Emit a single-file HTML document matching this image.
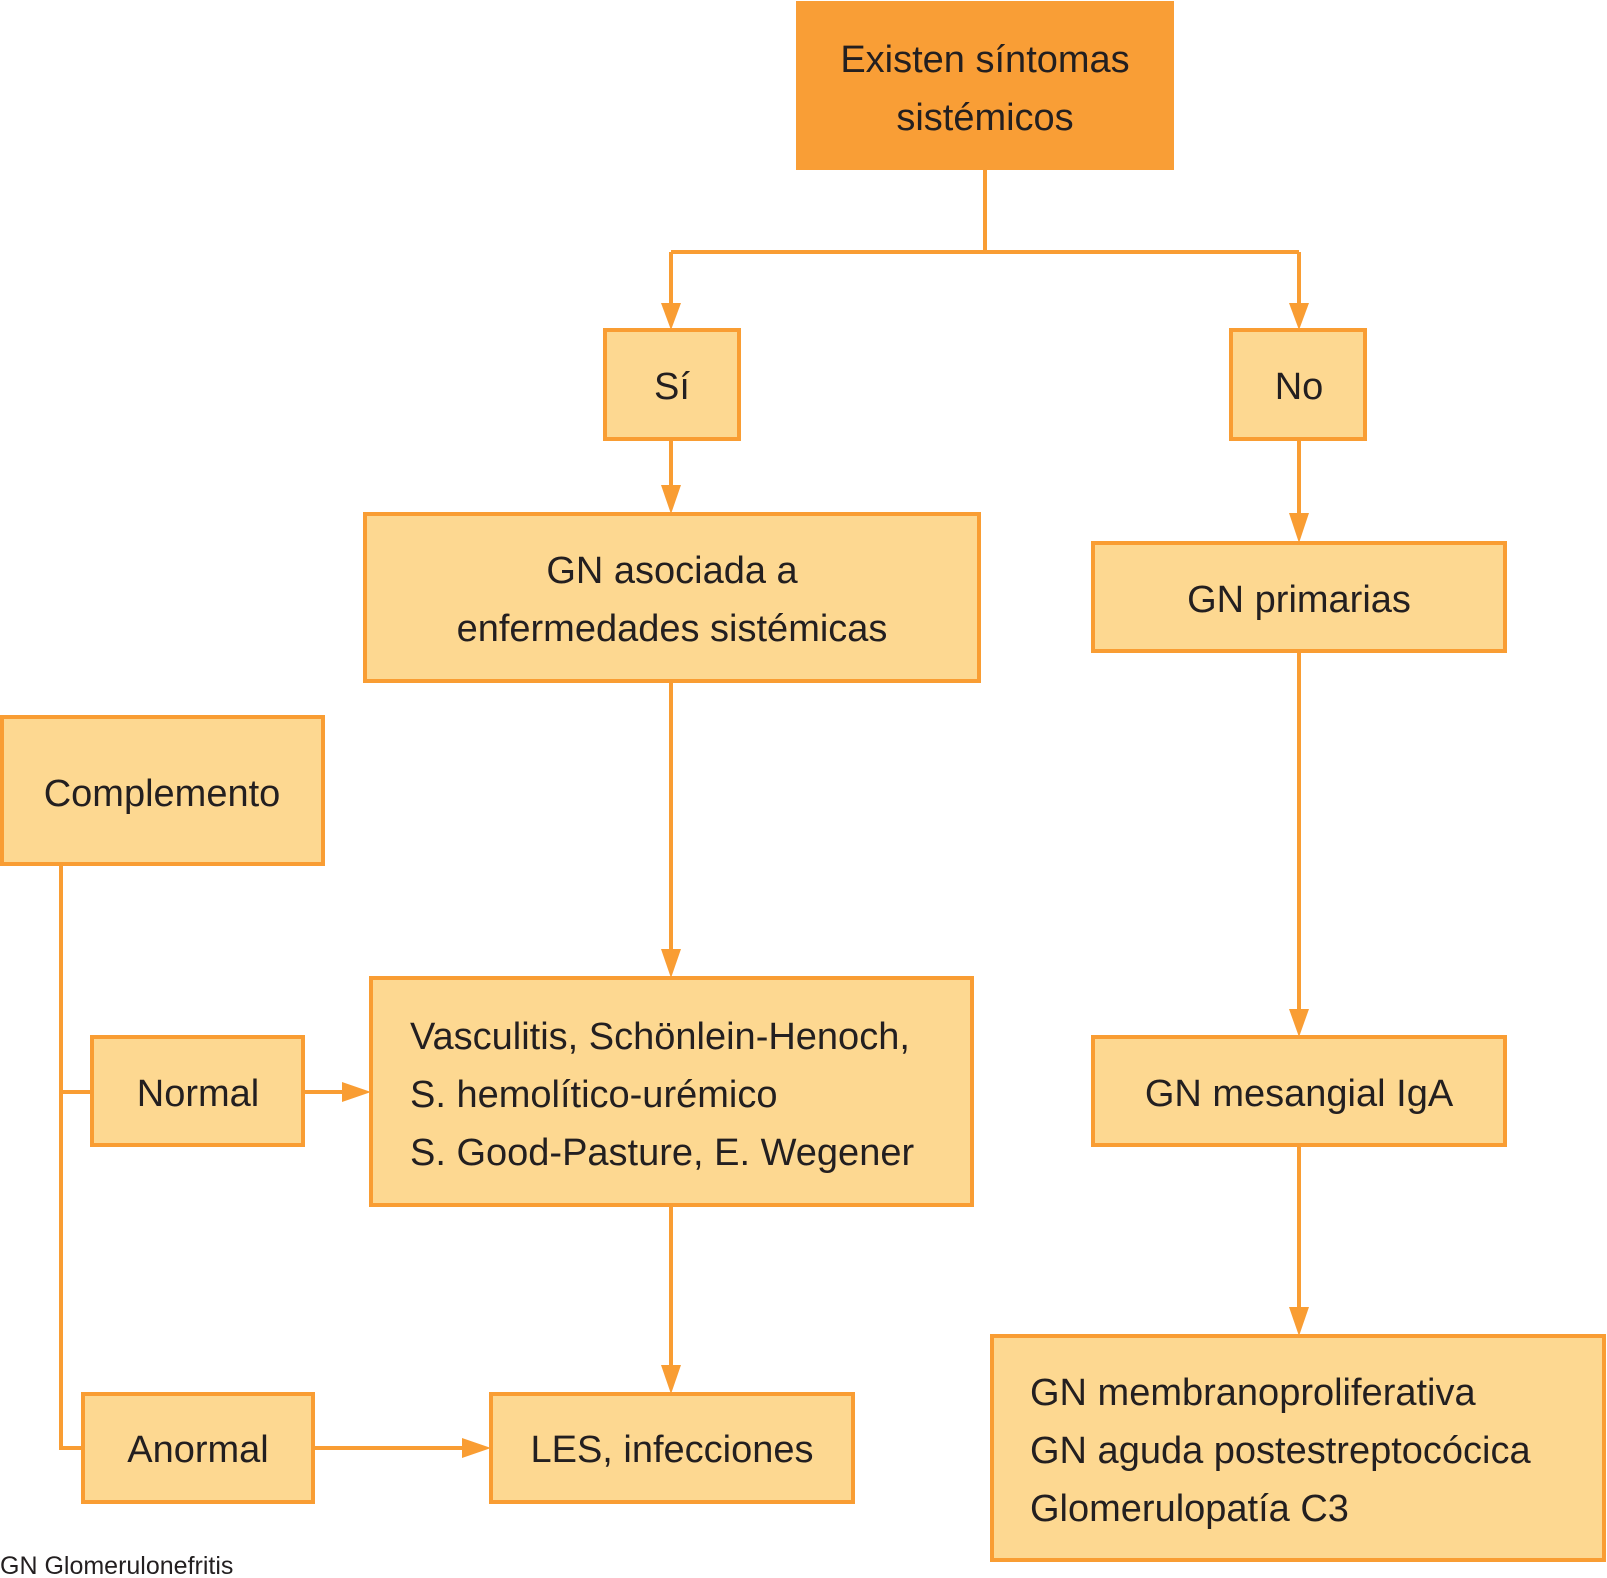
<!DOCTYPE html>
<html><head><meta charset="utf-8"><style>
html,body{margin:0;padding:0;background:#fff}
svg{display:block}
text{font-family:"Liberation Sans",sans-serif;fill:#231f20;font-size:38px}
</style></head><body>
<svg width="1607" height="1578" viewBox="0 0 1607 1578" xmlns="http://www.w3.org/2000/svg">
<defs><marker id="a" markerWidth="10" markerHeight="10" refX="9" refY="5" orient="auto" markerUnits="userSpaceOnUse"></marker></defs>
<g stroke="#f99d33" stroke-width="4" fill="none">
<path d="M985 170V252M671 252H1299M671 252V305M1299 252V305"/>
<path d="M671 439V486M1299 439V514"/>
<path d="M671 681V950M1299 651V1021"/>
<path d="M671 1205V1366M1299 1145V1308"/>
<path d="M61 864V1448H83M61 1092H92M303 1092H345M313 1448H464"/>
</g>
<g fill="#f99d33">
<polygon points="661,303 681,303 671,330"/>
<polygon points="1289,303 1309,303 1299,330"/>
<polygon points="661,485 681,485 671,514"/>
<polygon points="1289,513 1309,513 1299,543"/>
<polygon points="661,949 681,949 671,978"/>
<polygon points="1289,1009 1309,1009 1299,1037"/>
<polygon points="661,1365 681,1365 671,1394"/>
<polygon points="1289,1307 1309,1307 1299,1336"/>
<polygon points="342,1082 342,1102 371,1092"/>
<polygon points="462,1438 462,1458 491,1448"/>
</g>
<rect x="796" y="1" width="378" height="169" fill="#f99e36"/>
<g fill="#fdd891" stroke="#f99d33" stroke-width="4">
<rect x="605" y="330" width="134" height="109"/>
<rect x="1231" y="330" width="134" height="109"/>
<rect x="365" y="514" width="614" height="167"/>
<rect x="1093" y="543" width="412" height="108"/>
<rect x="2" y="717" width="321" height="147"/>
<rect x="92" y="1037" width="211" height="108"/>
<rect x="371" y="978" width="601" height="227"/>
<rect x="1093" y="1037" width="412" height="108"/>
<rect x="83" y="1394" width="230" height="108"/>
<rect x="491" y="1394" width="362" height="108"/>
<rect x="992" y="1336" width="612" height="224"/>
</g>
<g text-anchor="middle">
<text x="985" y="72">Existen síntomas</text>
<text x="985" y="130">sistémicos</text>
<text x="672" y="399">Sí</text>
<text x="1299" y="399">No</text>
<text x="672" y="583">GN asociada a</text>
<text x="672" y="641">enfermedades sistémicas</text>
<text x="1299" y="612">GN primarias</text>
<text x="162" y="806">Complemento</text>
<text x="198" y="1106">Normal</text>
<text x="1299" y="1106">GN mesangial IgA</text>
<text x="198" y="1462">Anormal</text>
<text x="672" y="1462">LES, infecciones</text>
</g>
<text x="410" y="1049">Vasculitis, Schönlein-Henoch,</text>
<text x="410" y="1107">S. hemolítico-urémico</text>
<text x="410" y="1165">S. Good-Pasture, E. Wegener</text>
<text x="1030" y="1405">GN membranoproliferativa</text>
<text x="1030" y="1463">GN aguda postestreptocócica</text>
<text x="1030" y="1521">Glomerulopatía C3</text>
<text x="0" y="1574" style="font-size:25px">GN Glomerulonefritis</text>
</svg>
</body></html>
